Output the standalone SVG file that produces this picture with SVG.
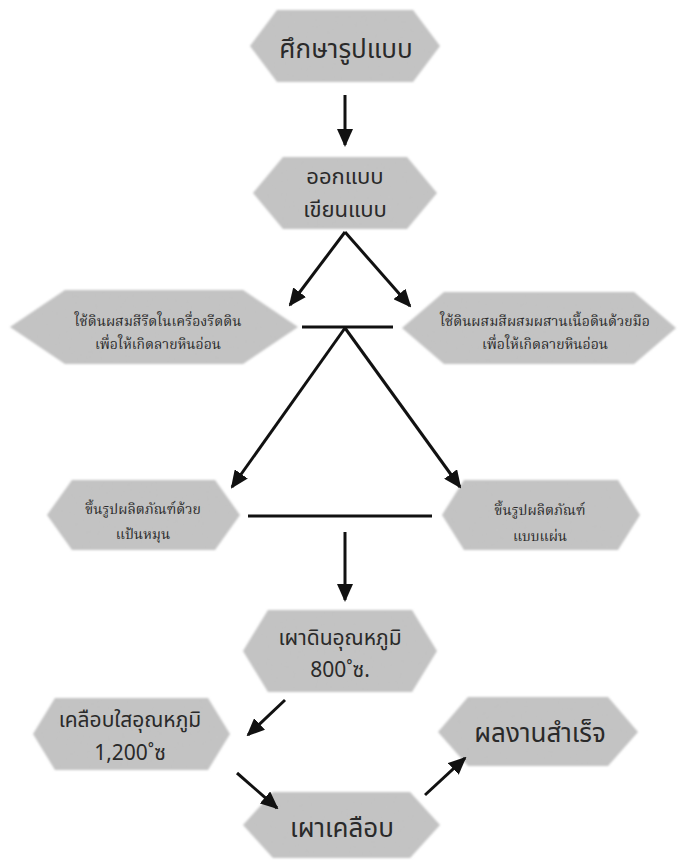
<svg xmlns="http://www.w3.org/2000/svg" width="678" height="860" viewBox="0 0 678 860">
<defs>
<style>
.hex{fill:#c4c4c4;filter:url(#soft)}
.t{fill:#2a2a2a;text-anchor:middle;font-family:"Noto Sans Thai","Noto Serif Thai","Loma","Garuda","Kinnari","DejaVu Sans",sans-serif}
.big{font-size:26px}
.mid{font-size:21px}
.m2{font-size:22px}
.sm{font-family:"Noto Serif Thai","Kinnari","Norasi","Noto Sans Thai","DejaVu Serif",serif;font-size:14px}
.c{stroke:#111;stroke-width:3;fill:none}
.a{marker-end:url(#ah)}
</style>
<filter id="soft" x="-5%" y="-10%" width="110%" height="120%">
<feTurbulence type="fractalNoise" baseFrequency="0.6" numOctaves="2" seed="3" result="n"/>
<feColorMatrix in="n" type="matrix" values="0 0 0 0 0.5  0 0 0 0 0.5  0 0 0 0 0.5  0 0 0 0.25 0" result="g"/>
<feComposite in="g" in2="SourceGraphic" operator="in" result="gi"/>
<feMerge result="m"><feMergeNode in="SourceGraphic"/><feMergeNode in="gi"/></feMerge>
<feGaussianBlur in="m" stdDeviation="1.2"/>
</filter>
<marker id="ah" markerUnits="userSpaceOnUse" markerWidth="18" markerHeight="16" refX="16" refY="8" orient="auto">
<path d="M0,0 L18,8 L0,16 z" fill="#111"/>
</marker>
</defs>
<rect width="678" height="860" fill="#fff"/>
<g id="n1"><path class="hex" d="M250,46 L277,10 L413,10 L440,46 L413,82 L277,82 Z"/><text class="t big" x="346" y="58">ศึกษารูปแบบ</text></g>
<g id="n2"><path class="hex" d="M253,193 L283,157 L407,157 L437,193 L407,229 L283,229 Z"/><text class="t m2" x="345" y="184">ออกแบบ</text><text class="t m2" x="345" y="217">เขียนแบบ</text></g>
<g id="n3"><path class="hex" d="M10,327 L65,290 L243,290 L298,327 L243,364 L65,364 Z"/><text class="t sm" x="158" y="326">ใช้ดินผสมสีรีดในเครื่องรีดดิน</text><text class="t sm" x="158" y="349">เพื่อให้เกิดลายหินอ่อน</text></g>
<g id="n4"><path class="hex" d="M402,328 L444,292 L634,292 L676,328 L634,364 L444,364 Z"/><text class="t sm" x="545" y="326">ใช้ดินผสมสีผสมผสานเนื้อดินด้วยมือ</text><text class="t sm" x="545" y="349">เพื่อให้เกิดลายหินอ่อน</text></g>
<g id="n5"><path class="hex" d="M47,515 L72,480 L215,480 L240,515 L215,550 L72,550 Z"/><text class="t sm" x="143" y="514">ขึ้นรูปผลิตภัณฑ์ด้วย</text><text class="t sm" x="143" y="539">แป้นหมุน</text></g>
<g id="n6"><path class="hex" d="M442,515 L464,480 L618,480 L640,515 L618,550 L464,550 Z"/><text class="t sm" x="540" y="515">ขึ้นรูปผลิตภัณฑ์</text><text class="t sm" x="540" y="541">แบบแผ่น</text></g>
<g id="n7"><path class="hex" d="M243,651 L268,610 L412,610 L437,651 L412,692 L268,692 Z"/><text class="t mid" x="340" y="645">เผาดินอุณหภูมิ</text><text class="t mid" x="340" y="677">800˚ซ.</text></g>
<g id="n8"><path class="hex" d="M33,734 L55,698 L208,698 L230,734 L208,770 L55,770 Z"/><text class="t mid" x="130" y="727">เคลือบใสอุณหภูมิ</text><text class="t mid" x="130" y="760">1,200˚ซ</text></g>
<g id="n9"><path class="hex" d="M243,825 L273,792 L410,792 L440,825 L410,858 L273,858 Z"/><text class="t big" x="342" y="837">เผาเคลือบ</text></g>
<g id="n10"><path class="hex" d="M438,732 L468,697 L608,697 L638,732 L608,766 L468,766 Z"/><text class="t big" x="540" y="742">ผลงานสำเร็จ</text></g>
<g id="connectors">
<line class="c a" x1="345" y1="95" x2="345" y2="145"/>
<line class="c a" x1="345" y1="232" x2="290" y2="305"/>
<line class="c a" x1="345" y1="232" x2="410" y2="306"/>
<line class="c" x1="302" y1="327" x2="393" y2="327"/>
<line class="c a" x1="345" y1="328" x2="232" y2="487"/>
<line class="c a" x1="345" y1="328" x2="460" y2="487"/>
<line class="c" x1="248" y1="516" x2="432" y2="516"/>
<line class="c a" x1="345" y1="532" x2="345" y2="600"/>
<line class="c a" x1="285" y1="700" x2="248" y2="735"/>
<line class="c a" x1="237" y1="773" x2="277" y2="808"/>
<line class="c a" x1="425" y1="795" x2="465" y2="758"/>
</g>
</svg>
